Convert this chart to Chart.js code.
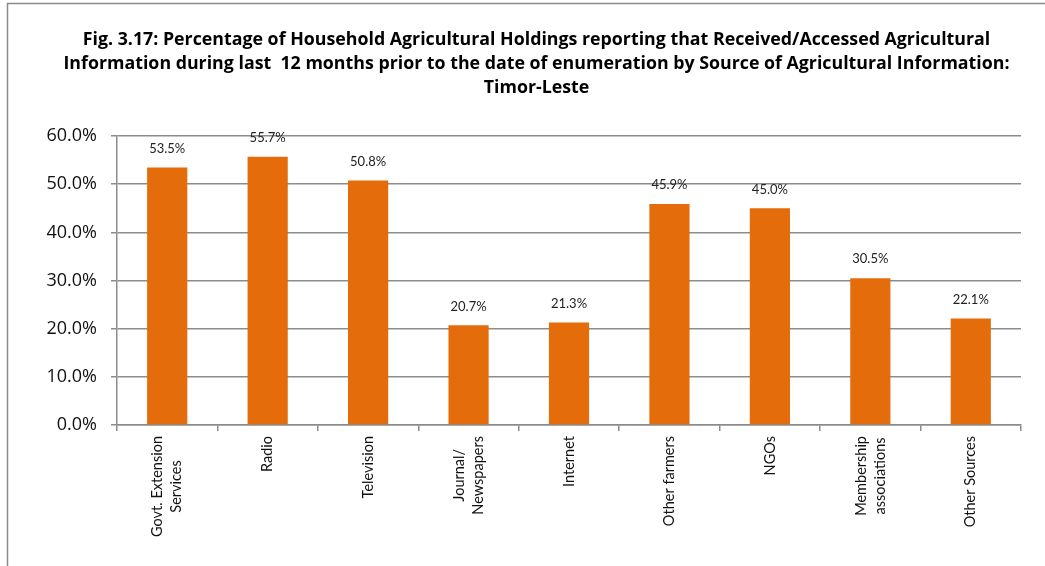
<!DOCTYPE html>
<html>
<head>
<meta charset="utf-8">
<script src="https://cdn.jsdelivr.net/npm/chart.js"></script>
<style>
  html, body { margin: 0; padding: 0; background: #fff; }
  #wrap { width: 1045px; height: 566px; }
</style>
</head>
<body>
<div id="wrap"><canvas id="c" width="1045" height="566"></canvas></div>
<script>
const sources = [
  ['Govt. Extension', 'Services'],
  ['Radio'],
  ['Television'],
  ['Journal/', 'Newspapers'],
  ['Internet'],
  ['Other farmers'],
  ['NGOs'],
  ['Membership', 'associations'],
  ['Other Sources']
];
const percentages = [53.5, 55.7, 50.8, 20.7, 21.3, 45.9, 45.0, 30.5, 22.1];
const yTicks = [0, 10, 20, 30, 40, 50, 60];

const FONT = 'Lato, "Open Sans", sans-serif';
const GRID = '#8c8c8c';

// frame round the picture (like the original worksheet border)
const framePlugin = {
  id: 'frame',
  afterLayout(chart) {
    // centre the title over the whole framed area, not just the canvas
    if (chart.titleBlock) {
      chart.titleBlock.left = 52;
      chart.titleBlock.right = 1021;
    }
  },
  beforeDraw(chart) {
    const ctx = chart.ctx;
    ctx.save();
    ctx.strokeStyle = '#8a8a8a';
    ctx.lineWidth = 1.5;
    ctx.beginPath();
    ctx.moveTo(7.5, 566);
    ctx.lineTo(7.5, 3.5);
    ctx.lineTo(1045, 3.5);
    ctx.stroke();
    ctx.restore();
  }
};

// value labels above each bar
const valueLabels = {
  id: 'valueLabels',
  afterDatasetsDraw(chart) {
    const ctx = chart.ctx;
    const meta = chart.getDatasetMeta(0);
    ctx.save();
    ctx.font = '13px ' + FONT;
    ctx.fillStyle = '#222';
    ctx.textAlign = 'center';
    ctx.textBaseline = 'middle';
    meta.data.forEach((bar, i) => {
      ctx.fillText(percentages[i].toFixed(1) + '%', bar.x, bar.y - 19);
    });
    ctx.restore();
  }
};

// rotated category labels, lines centred on each other
const xLabels = {
  id: 'xLabels',
  afterDraw(chart) {
    const ctx = chart.ctx;
    const x = chart.scales.x;
    const top = x.top + 11;
    const lh = 19;
    ctx.save();
    ctx.font = '14.5px ' + FONT;
    ctx.fillStyle = '#111';
    ctx.textBaseline = 'middle';
    ctx.textAlign = 'center';
    sources.forEach((lines, i) => {
      const px = x.getPixelForTick(i);
      const widths = lines.map(l => ctx.measureText(l).width);
      const maxW = Math.max(...widths);
      const x0 = px - (lines.length - 1) * lh / 2;
      lines.forEach((l, j) => {
        ctx.save();
        ctx.translate(x0 + j * lh, top + maxW / 2);
        ctx.rotate(-Math.PI / 2);
        ctx.fillText(l, 0, 0);
        ctx.restore();
      });
    });
    ctx.restore();
  }
};

new Chart(document.getElementById('c'), {
  type: 'bar',
  data: {
    labels: sources.map(s => s.join(' ')),
    datasets: [{
      data: percentages,
      backgroundColor: '#E46C0A',
      borderWidth: 0,
      barPercentage: 0.4,
      categoryPercentage: 1.0
    }]
  },
  options: {
    responsive: false,
    animation: false,
    layout: { padding: { left: 0, right: 24, top: 0, bottom: 0 } },
    plugins: {
      legend: { display: false },
      tooltip: { enabled: false },
      title: {
        display: true,
        text: [
          'Fig. 3.17: Percentage of Household Agricultural Holdings reporting that Received/Accessed Agricultural',
          'Information during last  12 months prior to the date of enumeration by Source of Agricultural Information:',
          'Timor-Leste'
        ],
        color: '#000',
        font: { family: '"Open Sans", sans-serif', size: 17.8, weight: 'bold', lineHeight: 1.35 },
        padding: { top: 28, bottom: 36 }
      }
    },
    scales: {
      x: {
        grid: {
          display: true,
          drawOnChartArea: false,
          offset: true,
          color: GRID,
          tickLength: 6,
          lineWidth: 1.5
        },
        border: { color: GRID, width: 1.5 },
        ticks: { display: false },
        afterFit(scale) { scale.height = 141; }
      },
      y: {
        min: 0,
        max: 60,
        afterBuildTicks(scale) { scale.ticks = yTicks.map(v => ({ value: v })); },
        grid: { color: GRID, lineWidth: 1.5, tickLength: 6 },
        border: { color: GRID, width: 1.5 },
        ticks: {
          color: '#111',
          padding: 14,
          font: { family: '"Open Sans", sans-serif', size: 18 },
          callback: v => v.toFixed(1) + '%'
        },
        afterFit(scale) { scale.width = 117; }
      }
    }
  },
  plugins: [framePlugin, valueLabels, xLabels]
});
</script>
</body>
</html>
